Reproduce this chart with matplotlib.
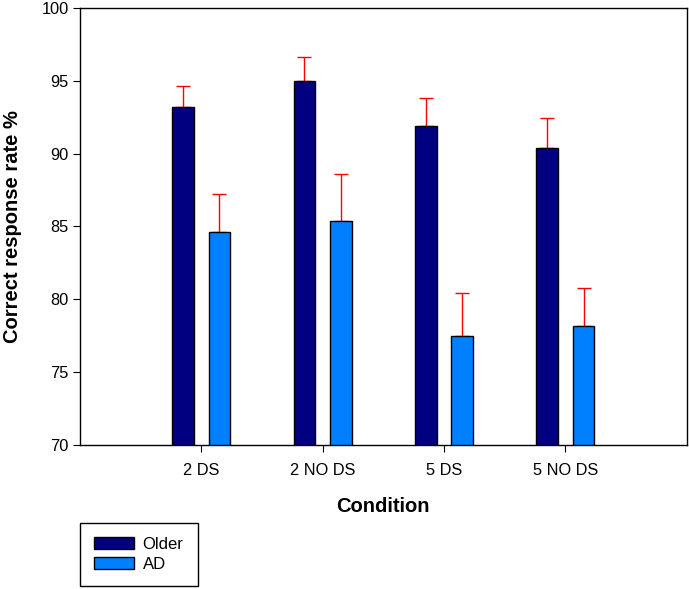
import numpy as np
import matplotlib
matplotlib.use('Agg')
import matplotlib.pyplot as plt

conditions = ['2 DS', '2 NO DS', '5 DS', '5 NO DS']
older_mean = [93.2, 95.0, 91.9, 90.4]
older_err = [1.45, 1.6, 1.9, 2.05]
ad_mean = [84.6, 85.4, 77.5, 78.15]
ad_err = [2.65, 3.2, 2.95, 2.6]

plt.rcParams['font.family'] = ['Liberation Sans', 'DejaVu Sans']

fig = plt.figure(figsize=(6.89, 5.89), dpi=100)
ax = fig.add_axes([0.116, 0.2445, 0.8807, 0.742])

x = np.arange(1, len(conditions) + 1)
w = 0.18
off = 0.15
ax.bar(x - off, older_mean, w, color='#000080', edgecolor='black', linewidth=1, label='Older', zorder=2)
ax.bar(x + off, ad_mean, w, color='#0080FF', edgecolor='black', linewidth=1, label='AD', zorder=2)
ax.errorbar(x - off, older_mean, yerr=[np.zeros(4), older_err], fmt='none',
            ecolor='red', elinewidth=1, capsize=4.7, capthick=1, zorder=1)
ax.errorbar(x + off, ad_mean, yerr=[np.zeros(4), ad_err], fmt='none',
            ecolor='red', elinewidth=1, capsize=4.7, capthick=1, zorder=1)

ax.set_xlim(0, 5)
ax.set_ylim(70, 100)
ax.set_yticks(np.arange(70, 101, 5))
ax.set_xticks(x)
ax.set_xticklabels(conditions)
ax.tick_params(axis='both', labelsize=11.8, direction='out', length=5, width=0.8)
ax.tick_params(axis='y', pad=3)
ax.tick_params(axis='x', pad=8)
for s in ax.spines.values():
    s.set_linewidth(1)

ax.set_xlabel('Condition', fontsize=14.5, fontweight='bold', labelpad=14)
ax.set_ylabel('Correct response rate %', fontsize=14.5, fontweight='bold', labelpad=14)

fig.legend(loc='lower left', bbox_to_anchor=(80 / 689, 3 / 589), fontsize=12,
           frameon=True, fancybox=False, edgecolor='black', framealpha=1,
           handlelength=2.4, handleheight=0.68, borderpad=0.85, labelspacing=0.3,
           handletextpad=0.5, borderaxespad=0)

fig.savefig('out.png', dpi=100)
